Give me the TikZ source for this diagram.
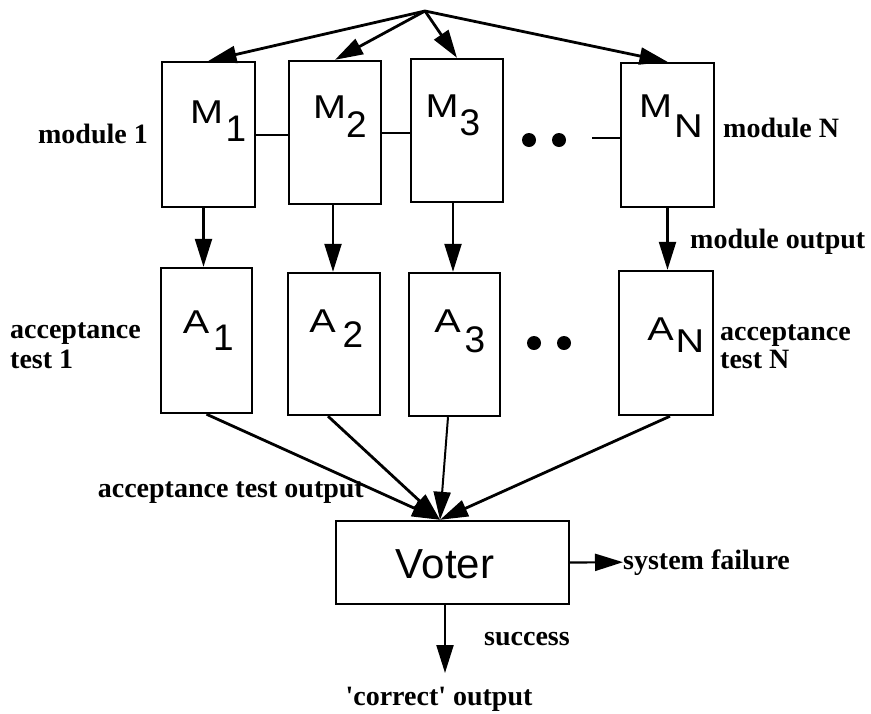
\documentclass[tikz,border=0pt]{standalone}
\usepackage{fontspec}
\setmainfont{Liberation Serif}
\newfontfamily\boxfont{Liberation Sans}
\newfontfamily\boxwide{Liberation Sans}[FakeStretch=1.2]
\usetikzlibrary{arrows.meta}

\tikzset{
  block/.style={draw, line width=2.4pt, inner sep=0pt, minimum width=#1},
  block/.default=92pt,
  tallbox/.style={block, minimum height=144pt},
  letter/.style={font=\boxwide\fontsize{33}{33}\selectfont, inner sep=0pt, anchor=base},
  digit/.style={font=\boxfont\fontsize{37}{37}\selectfont, inner sep=0pt, anchor=base},
  caption/.style={font=\bfseries\fontsize{28}{30}\selectfont, inner sep=0pt},
  arr/.style={-{Triangle[length=28pt,width=17pt]}, line width=2.8pt},
  link/.style={line width=2pt},
  dot/.style={circle, fill, inner sep=0pt, minimum size=14pt},
}

\begin{document}
\begin{tikzpicture}[x=1pt, y=-1pt]
  \useasboundingbox (0,0) rectangle (871,713);

  % common input
  \coordinate (src) at (425,11);

  % modules
  \node[tallbox, block=93pt, minimum height=145pt] (m1) at (208.5,134.5) {};
  \node[tallbox, minimum height=143pt] (m2) at (335,132.5) {};
  \node[tallbox, minimum height=143pt] (m3) at (457,130.5) {};
  \node[tallbox, block=93pt] (mN) at (667.5,135) {};

  \node[letter] (m1a) at (206.5,123.5) {M};  \node[digit] (m1b) at (236,141.5) {1};
  \node[letter] (m2a) at (329.5,118)   {M};  \node[digit] (m2b) at (356.5,137) {2};
  \node[letter] (m3a) at (442,117)     {M};  \node[digit] (m3b) at (470,135)   {3};
  \node[letter] (mNa) at (655.5,117)   {M};  \node[letter] (mNb) at (688.5,137) {N};

  % acceptance tests
  \node[tallbox, block=91pt, minimum height=145pt] (a1) at (206.5,340.5) {};
  \node[tallbox, minimum height=142pt] (a2) at (334,344) {};
  \node[tallbox, block=91pt, minimum height=143pt] (a3) at (454.5,344.5) {};
  \node[tallbox, block=94pt] (aN) at (666,343) {};

  \node[letter] (a1a) at (196,333)   {A};  \node[digit] (a1b) at (223.5,350) {1};
  \node[letter] (a2a) at (322.5,332) {A};  \node[digit] (a2b) at (353,347)   {2};
  \node[letter] (a3a) at (447.5,332) {A};  \node[digit] (a3b) at (475,352)   {3};
  \node[letter] (aNa) at (660.5,340) {A};  \node[letter] (aNb) at (690,352)  {N};

  % voter
  \node[block=233pt, minimum height=83pt] (voter) at (452.5,562.5) {};
  \node[font=\boxfont\fontsize{42}{42}\selectfont, inner sep=0pt, anchor=base]
    (votertext) at (445,578) {Voter};

  % ellipses between the columns
  \node[dot] (d1) at (529,140) {};
  \node[dot] (d2) at (559,140) {};
  \node[dot] (d3) at (534,343) {};
  \node[dot] (d4) at (564,343) {};

  % captions
  \node[caption, anchor=base east] (cm1) at (148,143) {module 1};
  \node[caption, anchor=base west] (cmN) at (723,137) {module N};
  \node[caption, anchor=base west] (cmo) at (690,248) {module output};
  \node[caption, anchor=base west] (ca1) at (10,338) {acceptance};
  \node[caption, anchor=base west] (ca1b) at (10,368) {test 1};
  \node[caption, anchor=base west] (caN) at (720,340) {acceptance};
  \node[caption, anchor=base west] (caNb) at (720,368) {test N};
  \node[caption, anchor=base east] (cao) at (364,497) {acceptance test output};
  \node[caption, anchor=base west] (sf) at (623,569) {system failure};
  \node[caption, anchor=base west] (succ) at (484,645) {success};
  \node[caption, anchor=base] (corr) at (439,705) {\textquotesingle correct\textquotesingle\ output};
  \coordinate (out) at (445,673);

  % input fan-out
  \draw[arr] (src) -- (m1.north);
  \draw[arr] (src) -- (m2.north);
  \draw[arr] (src) -- (m3.north);
  \draw[arr] (src) -- (mN.north);

  % links between modules
  \draw[link] (m1.east) -- (m1.east -| m2.west);
  \draw[link] (m2.east) -- (m2.east -| m3.west);
  \draw[link] ([yshift=-3pt]mN.west) -- ++(-28,0);

  % module outputs
  \draw[arr, line width=2.2pt] ([xshift=-5pt]m1.south) -- ([xshift=-5pt]m1.south |- a1.north);
  \draw[arr, line width=2.2pt] ([xshift=-2pt]m2.south) -- ([xshift=-2pt]m2.south |- a2.north);
  \draw[arr, line width=2.2pt] ([xshift=-4pt]m3.south) -- ([xshift=-4pt]m3.south |- a3.north);
  \draw[arr, line width=2.2pt] (mN.south) -- (mN.south |- aN.north);

  % acceptance test outputs into the voter
  \draw[arr] (a1.south) -- ([xshift=-12.5pt]voter.north);
  \draw[arr] ([xshift=-6pt]a2.south) -- ([xshift=-12.5pt]voter.north);
  \draw[arr, line width=2pt] ([xshift=-6.5pt]a3.south) -- ([xshift=-12.5pt]voter.north);
  \draw[arr] ([xshift=4pt]aN.south) -- ([xshift=-12.5pt]voter.north);

  % voter outcomes
  \draw[arr, line width=2.2pt] (voter.east) -- (sf.west);
  \draw[arr, line width=2.2pt] ([xshift=-7.5pt]voter.south) -- (out);
\end{tikzpicture}
\end{document}
